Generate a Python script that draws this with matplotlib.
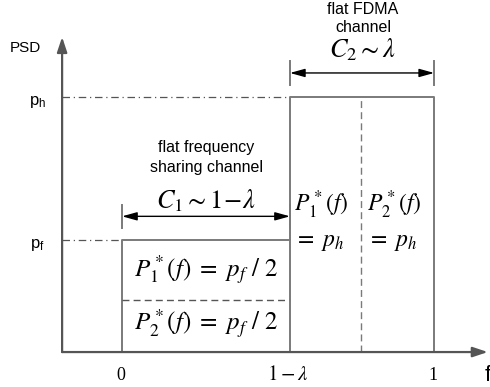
import matplotlib.pyplot as plt

plt.rcParams['font.family'] = ['Liberation Sans', 'DejaVu Sans']
plt.rcParams['mathtext.fontset'] = 'stix'

# diagram values (frequency in [0, 1], PSD normalised to p_h = 1)
f_edges = [0.0, 0.538, 1.0]      # 0, 1-lambda, 1
f_split = 0.766                  # dashed split of the FDMA channel
p_h = 1.0
p_f = 0.44
p_half = 0.205                   # dashed split of the sharing channel
tick_pos = [0.0, 0.538, 1.0]
tick_text = ['0', r'$1-\lambda$', '1']

grey = '#7a7a7a'

fig = plt.figure(figsize=(4.9, 3.87), dpi=100)
ax = fig.add_axes([0, 0, 1, 1])
ax.set_xlim(-0.391, 1.179)
ax.set_ylim(-0.137, 1.380)
ax.axis('off')

# axes with arrows
x0 = -0.192
ax.annotate('', xy=(x0, 1.235), xytext=(x0, -0.0),
            arrowprops=dict(arrowstyle='-|>,head_length=0.9,head_width=0.3',
                            color='#555555', lw=1.6, shrinkA=0, shrinkB=0))
ax.annotate('', xy=(1.172, 0.0), xytext=(x0, 0.0),
            arrowprops=dict(arrowstyle='-|>,head_length=0.9,head_width=0.3',
                            color='#555555', lw=1.6, shrinkA=0, shrinkB=0))

# level guides
ax.plot([x0, f_edges[1]], [p_h, p_h], color='#555555', lw=0.9, ls=(0, (6, 3, 1, 3)))
ax.plot([x0, f_edges[0]], [p_f, p_f], color='#555555', lw=0.9, ls=(0, (6, 3, 1, 3)))

# sharing channel box
ax.plot([f_edges[0], f_edges[0], f_edges[1]], [0, p_f, p_f], color=grey, lw=1.4)
ax.plot([f_edges[0], f_edges[1]], [p_half, p_half], color='#555555', lw=1.0, ls=(0, (5, 3)))

# FDMA channel box
ax.plot([f_edges[1], f_edges[1], f_edges[2], f_edges[2]], [0, p_h, p_h, 0], color=grey, lw=1.4)
ax.plot([f_split, f_split], [0, p_h], color=grey, lw=1.0, ls=(0, (5, 3)))

# width arrows
def span(a, b, y, tick):
    ax.plot([a, a], [y - tick, y + tick], color=grey, lw=1.4)
    ax.plot([b, b], [y - tick, y + tick], color=grey, lw=1.4)
    ax.annotate('', xy=(a, y), xytext=(b, y),
                arrowprops=dict(arrowstyle='<|-|>,head_length=0.9,head_width=0.25',
                                color='black', lw=1.0, shrinkA=0, shrinkB=0))

span(f_edges[1], f_edges[2], 1.094, 0.047)
span(f_edges[0], f_edges[1], 0.532, 0.045)

# labels
ax.text(0.772, 1.341, 'flat FDMA', ha='center', va='center', fontsize=11.5)
ax.text(0.772, 1.271, 'channel', ha='center', va='center', fontsize=11.5)
ax.text(0.772, 1.185, r'$C_2 \sim \lambda$', ha='center', va='center', fontsize=19)
ax.text(0.27, 0.80, 'flat frequency', ha='center', va='center', fontsize=11.5)
ax.text(0.27, 0.725, 'sharing channel', ha='center', va='center', fontsize=11.5)
ax.text(0.27, 0.595, r'$C_1 \sim 1\!-\!\lambda$', ha='center', va='center', fontsize=19)

ax.text(-0.31, 1.19, 'PSD', ha='center', va='center', fontsize=11)
ax.text(-0.27, p_h - 0.02, r'p$_\mathregular{h}$', ha='center', va='center', fontsize=12)
ax.text(-0.27, p_f - 0.02, r'p$_\mathregular{f}$', ha='center', va='center', fontsize=12)

ax.text(0.27, 0.32, r'$P_1^*(f)\ =\ p_f\ /\ 2$', ha='center', va='center', fontsize=18)
ax.text(0.27, 0.11, r'$P_2^*(f)\ =\ p_f\ /\ 2$', ha='center', va='center', fontsize=18)

ax.text(0.55, 0.575, r'$P_1^*(f)$', ha='left', va='center', fontsize=17)
ax.text(0.55, 0.43, r'$=\ p_h$', ha='left', va='center', fontsize=17)
ax.text(0.785, 0.575, r'$P_2^*(f)$', ha='left', va='center', fontsize=17)
ax.text(0.785, 0.43, r'$=\ p_h$', ha='left', va='center', fontsize=17)

for pos, lab in zip(tick_pos, tick_text):
    ax.text(pos - 0.005, -0.09, lab, ha='center', va='center',
            fontsize=15 if '$' in lab else 13, family='Liberation Serif')
ax.text(1.172, -0.09, 'f', ha='center', va='center', fontsize=16)

fig.savefig('out.png', dpi=100)
